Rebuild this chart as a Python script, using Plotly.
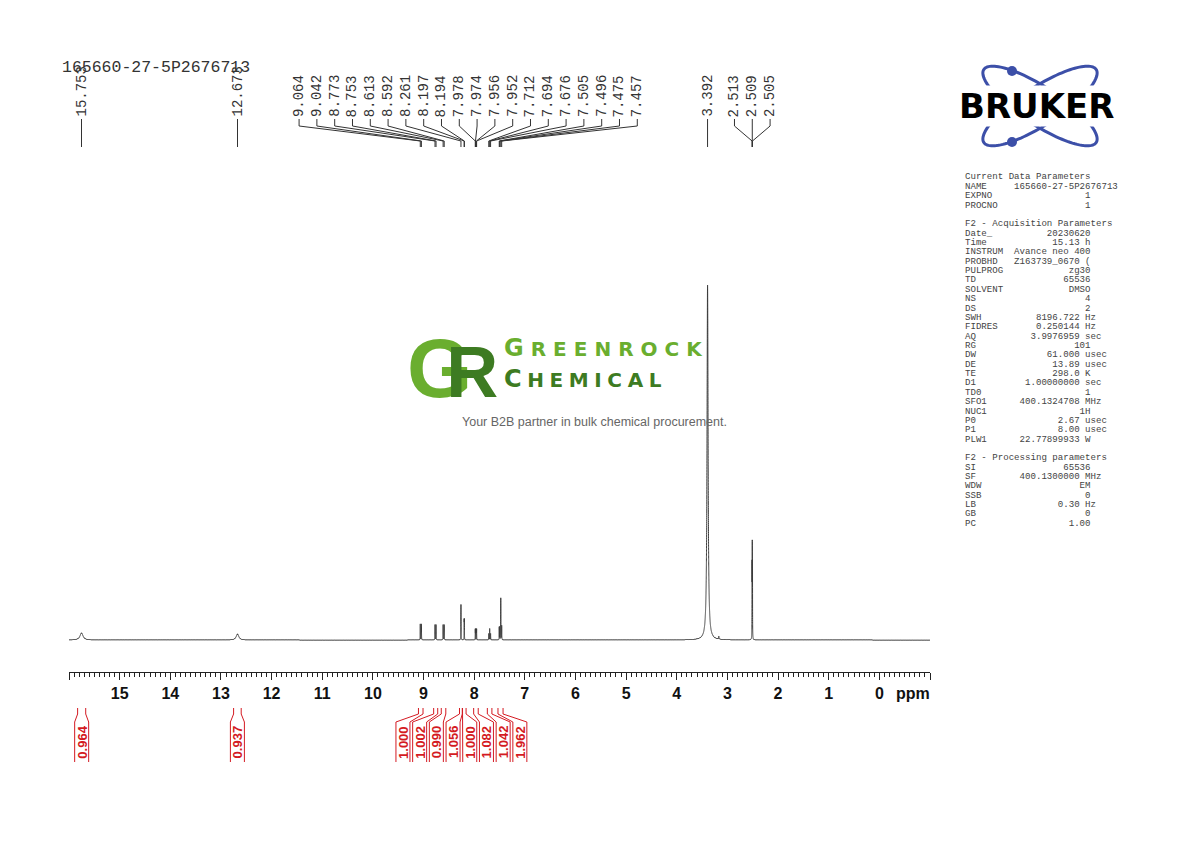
import numpy as np
import plotly.graph_objects as go

# ---------------- data ----------------
sample_name = "165660-27-5P2676713"

# spectrum peaks (ppm, relative height, half-width in ppm)
peak_ppm = [15.753, 12.673,
            9.064, 9.042, 8.773, 8.753, 8.613, 8.592,
            8.261, 8.197, 8.194,
            7.978, 7.974, 7.956, 7.952,
            7.712, 7.694, 7.676,
            7.505, 7.496, 7.475, 7.457,
            3.392, 3.17,
            2.513, 2.509, 2.505]
peak_height = [0.020, 0.017,
               0.045, 0.045, 0.043, 0.043, 0.043, 0.043,
               0.100, 0.050, 0.050,
               0.028, 0.028, 0.028, 0.028,
               0.018, 0.032, 0.018,
               0.036, 0.036, 0.118, 0.040,
               1.000, 0.008,
               0.19, 0.235, 0.19]
peak_width = [0.035, 0.030,
              0.002, 0.002, 0.002, 0.002, 0.002, 0.002,
              0.002, 0.0015, 0.0015,
              0.0015, 0.0015, 0.0015, 0.0015,
              0.002, 0.002, 0.002,
              0.0015, 0.0015, 0.002, 0.002,
              0.012, 0.004,
              0.0015, 0.0015, 0.0015]

# peak-pick label groups (ppm)
label_groups = [
    [15.753],
    [12.673],
    [9.064, 9.042, 8.773, 8.753, 8.613, 8.592, 8.261, 8.197, 8.194, 7.978,
     7.974, 7.956, 7.952, 7.712, 7.694, 7.676, 7.505, 7.496, 7.475, 7.457],
    [3.392],
    [2.513, 2.509, 2.505],
]

# integrals: left bound, right bound (ppm), value
int_hi = [15.83, 12.75, 9.10, 8.80, 8.65, 8.29, 8.23, 8.01, 7.74, 7.53]
int_lo = [15.67, 12.60, 9.01, 8.72, 8.56, 8.235, 8.16, 7.92, 7.65, 7.43]
int_val = [0.964, 0.937, 1.000, 1.002, 0.990, 1.056, 1.000, 1.082, 1.042, 1.962]
int_groups = [[0], [1], [2, 3, 4, 5, 6, 7, 8, 9]]

x_ticks = list(range(16, -2, -1))

params = [
    ("Current Data Parameters", None, None, "raw"),
    ("NAME", sample_name, None, "name"),
    ("EXPNO", "1", None, "v"),
    ("PROCNO", "1", None, "v"),
    ("", None, None, "raw"),
    ("F2 - Acquisition Parameters", None, None, "raw"),
    ("Date_", "20230620", None, "v"),
    ("Time", "15.13", "h", "u"),
    ("INSTRUM", "Avance neo 400", None, "v"),
    ("PROBHD", "Z163739_0670 (", None, "v"),
    ("PULPROG", "zg30", None, "v"),
    ("TD", "65536", None, "v"),
    ("SOLVENT", "DMSO", None, "v"),
    ("NS", "4", None, "v"),
    ("DS", "2", None, "v"),
    ("SWH", "8196.722", "Hz", "u"),
    ("FIDRES", "0.250144", "Hz", "u"),
    ("AQ", "3.9976959", "sec", "u"),
    ("RG", "101", None, "v"),
    ("DW", "61.000", "usec", "u"),
    ("DE", "13.89", "usec", "u"),
    ("TE", "298.0", "K", "u"),
    ("D1", "1.00000000", "sec", "u"),
    ("TD0", "1", None, "v"),
    ("SFO1", "400.1324708", "MHz", "u"),
    ("NUC1", "1H", None, "v"),
    ("P0", "2.67", "usec", "u"),
    ("P1", "8.00", "usec", "u"),
    ("PLW1", "22.77899933", "W", "u"),
    ("", None, None, "raw"),
    ("F2 - Processing parameters", None, None, "raw"),
    ("SI", "65536", None, "v"),
    ("SF", "400.1300000", "MHz", "u"),
    ("WDW", "EM", None, "v"),
    ("SSB", "0", None, "v"),
    ("LB", "0.30", "Hz", "u"),
    ("GB", "0", None, "v"),
    ("PC", "1.00", None, "v"),
]

# ---------------- layout helpers ----------------
# page body has an 8px margin; the figure is shrunk so it fills the window exactly
OFF = 8
W, H = 1190 - OFF, 842 - OFF
REF_L, REF_R, REF_T, REF_B = 69, 930, 40, 770      # plot area in window pixels
ML, MR, MT, MB = REF_L - OFF, 1190 - REF_R, REF_T - OFF, 842 - REF_B
PW, PH = REF_R - REF_L, REF_B - REF_T
X_LEFT, X_RIGHT = 16.0, -1.0
PPM_PX = PW / (X_LEFT - X_RIGHT)


def X(px):
    return (px - REF_L) / PW


def Y(py):
    return (REF_B - py) / PH


def dppm(dpx):
    return dpx / PPM_PX


BASE_PX, UNIT_PX = 640, 355
y_lo = -(REF_B - BASE_PX) / UNIT_PX
y_hi = (BASE_PX - REF_T) / UNIT_PX

INK = "#333333"
RED = "#d41a22"
MONO = "Liberation Mono"
SANS = "Liberation Sans"

# ---------------- spectrum ----------------
xs = np.union1d(np.linspace(X_RIGHT, X_LEFT, 80001), np.array(peak_ppm))[::-1]
ys = np.zeros_like(xs)
for p, h, w in zip(peak_ppm, peak_height, peak_width):
    ys += h * w * w / ((xs - p) ** 2 + w * w)

fig = go.Figure()
fig.add_trace(go.Scatter(x=xs, y=ys, mode="lines", line=dict(color="#3a3a3a", width=1, simplify=False),
                         hoverinfo="skip", showlegend=False))

annotations = []

# ---------------- peak labels ----------------
LBL_SP = dppm(17.8)
fx, fy = [], []
for grp in label_groups:
    n = len(grp)
    c = sum(grp) / n
    for i, v in enumerate(grp):
        lx = c + ((n - 1) / 2 - i) * LBL_SP
        fx += [lx, lx, v, v, None]
        fy += [119, 126, 141, 147, None]
        annotations.append(dict(x=lx, xref="x", y=Y(118), yref="paper", text=f"{v:.3f}",
                                textangle=-90, showarrow=False, xanchor="center", yanchor="bottom",
                                font=dict(family=MONO, size=14, color=INK), borderpad=0))
fig.add_trace(go.Scatter(x=fx, y=fy, xaxis="x", yaxis="y2", mode="lines",
                         line=dict(color=INK, width=1), hoverinfo="skip", showlegend=False))

# ---------------- integrals ----------------
INT_SP = dppm(16.7)
HW = dppm(7)
ix, iy = [], []
for grp in int_groups:
    n = len(grp)
    mids = [(int_hi[k] + int_lo[k]) / 2 for k in grp]
    c = sum(mids) / n
    for i, k in enumerate(grp):
        lx = c + ((n - 1) / 2 - i) * INT_SP
        ix += [int_hi[k], int_hi[k], lx + HW, lx + HW, None]
        iy += [708, 714, 722, 762, None]
        ix += [int_lo[k], int_lo[k], lx - HW, lx - HW, None]
        iy += [708, 714, 722, 762, None]
        annotations.append(dict(x=lx, xref="x", y=Y(742), yref="paper", text=f"{int_val[k]:.3f}",
                                textangle=-90, showarrow=False, xanchor="center", yanchor="middle",
                                font=dict(family=SANS, size=13, color=RED, weight="bold"), borderpad=0))
fig.add_trace(go.Scatter(x=ix, y=iy, xaxis="x", yaxis="y2", mode="lines",
                         line=dict(color=RED, width=1), hoverinfo="skip", showlegend=False))

# ---------------- title & ppm ----------------
annotations.append(dict(x=X(60), y=Y(68), xref="paper", yref="paper", text=sample_name,
                        showarrow=False, xanchor="left", yanchor="middle",
                        font=dict(family=MONO, size=16.5, color=INK)))
annotations.append(dict(x=X(894), y=Y(693), xref="paper", yref="paper", text="ppm",
                        showarrow=False, xanchor="left", yanchor="middle",
                        font=dict(family=SANS, size=16, color="#111", weight="bold")))

# ---------------- parameter panel ----------------
for i, (name, val, unit, kind) in enumerate(params):
    if kind == "raw":
        line = name
    elif kind == "name":
        line = name.ljust(9) + val
    elif kind == "v":
        line = name + val.rjust(23 - len(name))
    else:
        line = name + val.rjust(21 - len(name)) + " " + unit
    if not line:
        continue
    annotations.append(dict(x=X(963), y=Y(177 + i * 9.36), xref="paper", yref="paper",
                            text=line.replace(" ", "&nbsp;"), showarrow=False, xanchor="left", yanchor="middle",
                            font=dict(family=MONO, size=9.1, color="#444")))

# ---------------- Bruker logo ----------------
shapes = []


def ellipse_path(cx, cy, a, b, ang):
    t = np.linspace(0, 2 * np.pi, 121)
    ca, sa = np.cos(ang), np.sin(ang)
    ex = cx + a * np.cos(t) * ca - b * np.sin(t) * sa
    ey = cy + a * np.cos(t) * sa + b * np.sin(t) * ca
    return "M" + "L".join(f"{X(u):.5f},{Y(v):.5f}" for u, v in zip(ex, ey)) + "Z"


BLUE = "#3c4fa8"
for ang in (np.radians(33), np.radians(-33)):
    shapes.append(dict(type="path", xref="paper", yref="paper", path=ellipse_path(1040, 106, 67, 19, ang),
                       line=dict(color=BLUE, width=3)))
for (dx, dy) in ((1012, 71), (1012, 142)):
    shapes.append(dict(type="circle", xref="paper", yref="paper", x0=X(dx - 5), x1=X(dx + 5),
                       y0=Y(dy + 5), y1=Y(dy - 5), fillcolor=BLUE, line=dict(width=0)))
annotations.append(dict(x=X(1036), y=Y(106), xref="paper", yref="paper", text="BRUKER",
                        showarrow=False, xanchor="center", yanchor="middle", bgcolor="white", borderpad=0,
                        font=dict(family="DejaVu Sans", size=34, color="black", weight="bold")))

# ---------------- Greenrock watermark ----------------
G1, G2 = "#6aae2f", "#3d7b22"
annotations.append(dict(x=X(500), y=Y(368), xref="paper", yref="paper", showarrow=False,
                        xanchor="right", yanchor="middle",
                        text=f'<span style="letter-spacing:-26px">G</span>'
                             f'<span style="font-size:72px;color:{G2}">R</span>',
                        font=dict(family=SANS, size=84, color=G1, weight="bold")))
annotations.append(dict(x=X(503), y=Y(363), xref="paper", yref="paper", showarrow=False,
                        xanchor="left", yanchor="bottom", borderpad=0,
                        text='<span style="font-size:24px;letter-spacing:7px">G</span>'
                             '<span style="letter-spacing:7px">REENROCK</span>',
                        font=dict(family="DejaVu Sans", size=20, color=G1, weight="bold")))
annotations.append(dict(x=X(503), y=Y(364), xref="paper", yref="paper", showarrow=False,
                        xanchor="left", yanchor="top", borderpad=0,
                        text='<span style="font-size:24px;letter-spacing:5.6px">C</span>'
                             '<span style="letter-spacing:5.6px">HEMICAL</span>',
                        font=dict(family="DejaVu Sans", size=20, color=G2, weight="bold")))
annotations.append(dict(x=X(594), y=Y(422), xref="paper", yref="paper", showarrow=False,
                        text="Your B2B partner in bulk chemical procurement.",
                        font=dict(family=SANS, size=12.5, color="#666")))

# ---------------- axes ----------------
fig.update_layout(
    width=W, height=H, margin=dict(l=ML, r=MR, t=MT, b=MB),
    paper_bgcolor="white", plot_bgcolor="white",
    xaxis=dict(range=[X_LEFT, X_RIGHT], anchor="free", position=Y(672), showline=True,
               linecolor="#222", linewidth=1, ticks="outside", ticklen=7, tickwidth=1, tickcolor="#222",
               tickmode="array", tickvals=x_ticks,
               ticktext=["" if (t == 16 or t == -1) else str(t) for t in x_ticks],
               tickfont=dict(family=SANS, size=16, color="#111", weight="bold"),
               minor=dict(tickmode="linear", tick0=0, dtick=0.1, ticks="outside", ticklen=4,
                          tickcolor="#222", tickwidth=1, showgrid=False),
               showgrid=False, zeroline=False, fixedrange=True),
    yaxis=dict(range=[y_lo, y_hi], visible=False, fixedrange=True),
    yaxis2=dict(range=[REF_B, REF_T], overlaying="y", visible=False, fixedrange=True),
    annotations=annotations, shapes=shapes, showlegend=False,
)

fig.write_html("out.html")
